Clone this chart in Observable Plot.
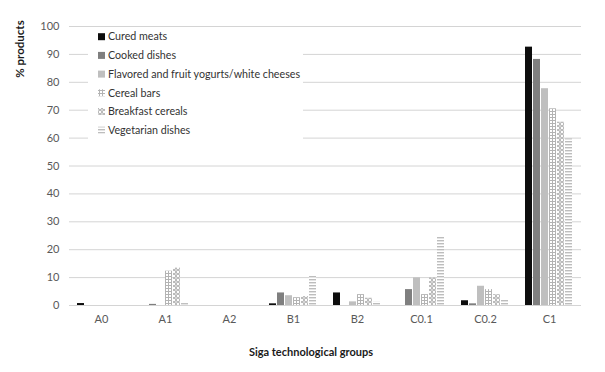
<!DOCTYPE html>
<html>
<head>
<meta charset="utf-8">
<script src="https://cdn.jsdelivr.net/npm/d3@7"></script>
<script src="https://cdn.jsdelivr.net/npm/@observablehq/plot@0.6"></script>
<style>
  html, body { margin: 0; padding: 0; background: #fff; }
</style>
</head>
<body>
<div id="chart"></div>
<script>
const groups = ["A0", "A1", "A2", "B1", "B2", "C0.1", "C0.2", "C1"];
const series = ["Cured meats", "Cooked dishes", "Flavored and fruit yogurts/white cheeses", "Cereal bars", "Breakfast cereals", "Vegetarian dishes"];
const curedMeats  = [0.7, 0,   0, 0.6,  4.5, 0,    1.7, 92.6];
const cookedDishes = [0,  0.4, 0, 4.5,  0,   5.7,  0.6, 88.2];
const flavoredYogurts = [0, 0, 0, 3.5,  1.3, 9.9,  6.9, 77.7];
const cerealBars  = [0,  12.3, 0, 2.8,  3.9, 3.9,  5.7, 70.5];
const breakfastCereals = [0, 13.4, 0, 3.2, 2.6, 9.9, 3.9, 65.7];
const vegetarianDishes = [0, 0.7, 0, 10.7, 1.2, 24.7, 1.8, 59.7];
const yTicks = [0, 10, 20, 30, 40, 50, 60, 70, 80, 90, 100];

const seriesValues = [curedMeats, cookedDishes, flavoredYogurts, cerealBars, breakfastCereals, vegetarianDishes];
const fills = ["#0d0d0d", "#7f7f7f", "#bfbfbf", "url(#pat-grid)", "url(#pat-circles)", "url(#pat-stripes)"];

const data = [];
groups.forEach((g, i) => {
  series.forEach((s, j) => data.push({group: g, series: s, value: seriesValues[j][i]}));
});

const svg = Plot.plot({
  width: 605,
  height: 372,
  marginTop: 26,
  marginBottom: 67,
  marginLeft: 67,
  marginRight: 22,
  style: {fontFamily: "Lato, 'Open Sans', sans-serif", fontSize: "11px", color: "#595959", background: "#fff"},
  fx: {domain: groups, padding: 0, label: null},
  x: {domain: series, axis: null, paddingInner: 0.12, paddingOuter: 0.85},
  y: {domain: [0, 100], label: null},
  color: {domain: series, range: fills},
  marks: [
    Plot.gridY(yTicks, {stroke: "#d4d4d4", strokeOpacity: 1}),
    Plot.ruleY([0], {stroke: "#d4d4d4"}),
    Plot.axisY(yTicks, {tickSize: 0, tickPadding: 10, label: null, fontSize: 11}),
    Plot.axisFx({anchor: "bottom", tickSize: 0, tickPadding: 10, label: null, fontSize: 11}),
    Plot.barY(data, {fx: "group", x: "series", y: "value", fill: "series"})
  ]
});

const root = d3.select(svg);
const defs = root.insert("defs", ":first-child");
// grid pattern (Cereal bars)
const pg = defs.append("pattern").attr("id", "pat-grid").attr("patternUnits", "userSpaceOnUse").attr("width", 3).attr("height", 3);
pg.append("rect").attr("width", 3).attr("height", 3).attr("fill", "#fff");
pg.append("path").attr("d", "M0 0.5H3M0.5 0V3").attr("stroke", "#b3b3b3").attr("stroke-width", 1);
// circles pattern (Breakfast cereals)
const pc = defs.append("pattern").attr("id", "pat-circles").attr("patternUnits", "userSpaceOnUse").attr("width", 4).attr("height", 4);
pc.append("rect").attr("width", 4).attr("height", 4).attr("fill", "#fff");
pc.append("circle").attr("cx", 2).attr("cy", 2).attr("r", 1.4).attr("fill", "none").attr("stroke", "#999").attr("stroke-width", 0.9);
// stripes pattern (Vegetarian dishes)
const ps = defs.append("pattern").attr("id", "pat-stripes").attr("patternUnits", "userSpaceOnUse").attr("width", 4).attr("height", 3);
ps.append("rect").attr("width", 4).attr("height", 3).attr("fill", "#fff");
ps.append("rect").attr("y", 0).attr("width", 4).attr("height", 1.4).attr("fill", "#bdbdbd");

// legend
const lg = root.append("g").attr("text-anchor", "start");
lg.append("rect").attr("x", 88).attr("y", 29).attr("width", 215).attr("height", 111).attr("fill", "#fff");
series.forEach((s, i) => {
  const cy = 36.7 + i * 18.7;
  lg.append("rect").attr("x", 98).attr("y", cy - 3.5).attr("width", 7).attr("height", 7).attr("fill", fills[i]);
  lg.append("text").attr("x", 108).attr("y", cy).attr("dy", "0.35em").attr("text-anchor", "start")
    .attr("fill", "#333").attr("font-size", 10.7).text(s);
});

// axis titles
root.append("text").attr("transform", "translate(20,49) rotate(-90)")
  .attr("text-anchor", "middle").attr("dy", "0.35em").attr("font-weight", "bold")
  .attr("font-size", 11.5).attr("fill", "#1a1a1a").text("% products");
root.append("text").attr("x", 311).attr("y", 352)
  .attr("text-anchor", "middle").attr("dy", "0.35em").attr("font-weight", "bold")
  .attr("font-size", 11).attr("fill", "#1a1a1a").text("Siga technological groups");

document.getElementById("chart").appendChild(svg);
</script>
</body>
</html>
